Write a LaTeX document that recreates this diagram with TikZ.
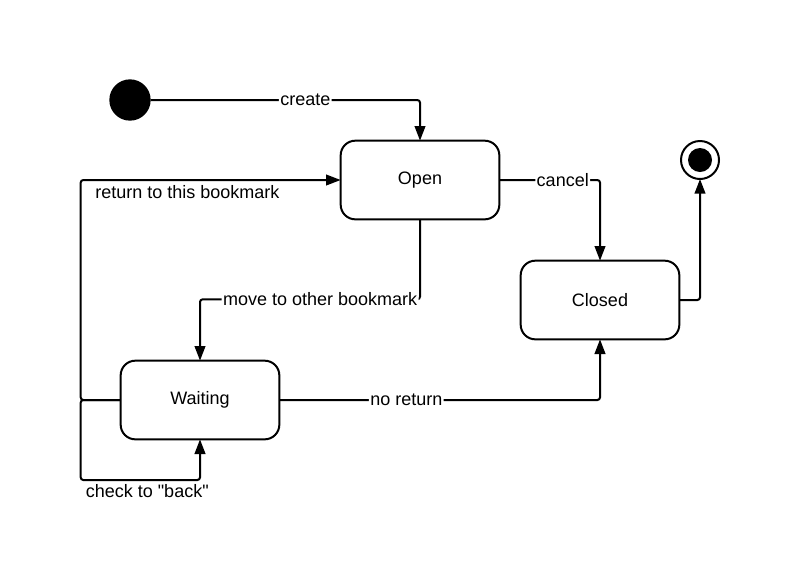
\documentclass[tikz,border=0pt]{standalone}
\usepackage{fontspec}
\setmainfont{Liberation Sans}[Ligatures=TeXOff]
\usetikzlibrary{arrows.meta}
\definecolor{c000000}{RGB}{0,0,0}
\definecolor{cffffff}{RGB}{255,255,255}
\begin{document}
\begin{tikzpicture}[y=0.75pt, x=0.75pt, yscale=-1, inner sep=0pt, outer sep=0pt,
  state/.style={draw=c000000, line width=1.5pt, rounded corners=11pt,
    minimum width=119pt, minimum height=59pt, font=\fontsize{13.5}{16}\selectfont},
  trans/.style={draw=c000000, line width=1.5pt, rounded corners=2pt,
    -{Triangle[width=8pt,length=11pt]}},
  lbl/.style={fill=cffffff, inner sep=1pt, font=\fontsize{13.5}{16}\selectfont},
  lblplain/.style={inner sep=2pt, font=\fontsize{13.5}{16}\selectfont}]
  \path[use as bounding box] (0,0) rectangle (809,576);
  \node[circle, fill=c000000, minimum size=31pt] (start) at (130,100) {};
  \node[circle, draw=c000000, line width=1.5pt, minimum size=28.5pt] (stop) at (700,160) {};
  \node[circle, fill=c000000, minimum size=18pt] (stopdot) at (700,160) {};
  \node[state] (open) at (420,180) {Open};
  \node[state] (closed) at (600,300) {Closed};
  \node[state] (waiting) at (200,400) {Waiting};
  \path[trans] (start.east) -| node[pos=0.287, lbl] (create) {create} (open.north);
  \path[trans] (open.east) -| node[pos=0.315, lbl] (cancel) {cancel} (closed.north);
  \path[trans] (closed.east) -| (stop.south);
  \path[trans] (open.south) -- ++(0,80) -| node[pos=0.227, lbl] (move)
    {move to other bookmark} (waiting.north);
  \path[trans] (waiting.east) -| node[pos=0.198, lbl] (noreturn) {no return}
    (closed.south);
  \path[trans] (waiting.west) -- ++(-40,0) |- node[pos=0.5, anchor=north west,
    xshift=9pt, yshift=-2pt, lblplain] (back) {return to this bookmark} (open.west);
  \path[trans] (waiting.west) -- ++(-40,0) -- ++(0,80) -| node[pos=0.279, below,
    yshift=-1pt, lblplain] (check) {check to "back"} (waiting.south);
\end{tikzpicture}
\end{document}
